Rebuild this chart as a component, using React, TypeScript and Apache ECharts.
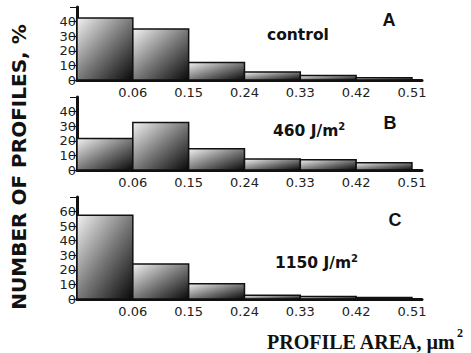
import React, { useEffect, useRef } from "react";
import * as echarts from "echarts";

const xLabels = ["", "0.06", "0.15", "0.24", "0.33", "0.42", "0.51"];
const valuesA = [42.5, 35, 12, 5.5, 3, 1.6];
const valuesB = [21.5, 32.5, 14.5, 7.5, 7, 5];
const valuesC = [57.5, 24, 10.5, 2.5, 1.7, 1];
const yMaxes = [50, 50, 70];
const panelLetters = ["A", "B", "C"];

const grids = [
  { left: 77, top: 7, width: 345, height: 73 },
  { left: 77, top: 97, width: 345, height: 73 },
  { left: 77, top: 197, width: 345, height: 102 },
];

const SANS = "'DejaVu Sans', Arial, sans-serif";
const ARIAL = "Arial, 'Liberation Sans', sans-serif";

export default function App() {
  const ref = useRef<HTMLDivElement>(null);
  useEffect(() => {
    if (!ref.current) return;
    const chart = echarts.init(ref.current, null, { renderer: "svg" });
    const all = [valuesA, valuesB, valuesC];
    const renderItem = (params: any, api: any) => {
      const i = api.value(0);
      const v = api.value(1);
      const p0 = api.coord([i, 0]);
      const p1 = api.coord([i + 1, v]);
      return {
        type: "rect",
        shape: { x: p0[0], y: p1[1], width: p1[0] - p0[0], height: p0[1] - p1[1] },
        style: {
          fill: new echarts.graphic.LinearGradient(0, 0, 1, 1, [
            { offset: 0, color: "#f2f2f2" },
            { offset: 0.5, color: "#7a7a7a" },
            { offset: 1, color: "#080808" },
          ]),
          stroke: "#111",
          lineWidth: 1.5,
        },
      };
    };
    const axisFont = { fontFamily: SANS, fontSize: 13, color: "#222" };
    const supStyle = (x: number, y: number, main: string) => ({
      type: "text",
      x,
      y,
      style: {
        text: `{a|${main}}{s|2}`,
        rich: {
          a: { font: `bold 15.5px ${SANS}`, fill: "#111" },
          s: { font: `bold 10px ${SANS}`, fill: "#111", verticalAlign: "top", padding: [0, 0, 10, 0] },
        },
        align: "left",
        verticalAlign: "middle",
      },
    });
    const option: any = {
      animation: false,
      grid: grids,
      xAxis: grids.map((_, gi) => ({
        type: "value",
        gridIndex: gi,
        min: 0,
        max: 6.18,
        interval: 1,
        axisLine: { lineStyle: { color: "#111", width: 3 } },
        axisTick: { show: false },
        splitLine: { show: false },
        axisLabel: {
          ...axisFont,
          margin: 6,
          showMaxLabel: false,
          formatter: (v: number) => (Number.isInteger(v) ? xLabels[v] ?? "" : ""),
        },
      })),
      yAxis: grids.map((_, gi) => ({
        type: "value",
        gridIndex: gi,
        min: 0,
        max: yMaxes[gi],
        interval: 10,
        axisLine: { show: true, lineStyle: { color: "#111", width: 3 } },
        axisTick: { show: true, length: 7, lineStyle: { color: "#111", width: 1 } },
        splitLine: { show: false },
        axisLabel: {
          ...axisFont,
          margin: 1,
          formatter: (v: number) => (v === yMaxes[gi] ? "" : String(v)),
        },
      })),
      series: all.map((vals, gi) => ({
        type: "custom",
        xAxisIndex: gi,
        yAxisIndex: gi,
        renderItem,
        data: vals.map((v, i) => [i, v]),
      })),
      graphic: [
        {
          type: "text",
          rotation: Math.PI / 2,
          x: 19,
          y: 167,
          style: {
            text: "NUMBER OF PROFILES, %",
            font: `bold 20px ${SANS}`,
            fill: "#111",
            align: "center",
            verticalAlign: "middle",
          },
        },
        {
          type: "text",
          x: 267,
          y: 342,
          style: {
            text: "PROFILE AREA, \u00b5m",
            font: "bold 20px 'Times New Roman', 'Liberation Serif', serif",
            fill: "#111",
            align: "left",
            verticalAlign: "middle",
          },
        },
        {
          type: "text",
          x: 457,
          y: 333,
          style: {
            text: "2",
            font: "bold 12px 'Times New Roman', 'Liberation Serif', serif",
            fill: "#111",
            align: "left",
            verticalAlign: "middle",
          },
        },
        { type: "text", x: 389, y: 20, style: { text: panelLetters[0], font: `bold 18px ${ARIAL}`, fill: "#111", align: "center", verticalAlign: "middle" } },
        { type: "text", x: 390, y: 123, style: { text: panelLetters[1], font: `bold 18px ${ARIAL}`, fill: "#111", align: "center", verticalAlign: "middle" } },
        { type: "text", x: 395, y: 220, style: { text: panelLetters[2], font: `bold 18px ${ARIAL}`, fill: "#111", align: "center", verticalAlign: "middle" } },
        { type: "text", x: 267, y: 35, style: { text: "control", font: `bold 15.5px ${SANS}`, fill: "#111", align: "left", verticalAlign: "middle" } },
        supStyle(273, 131, "460 J/m"),
        supStyle(275, 263, "1150 J/m"),
      ],
    };
    chart.setOption(option);
    return () => chart.dispose();
  }, []);
  return <div ref={ref} style={{ width: 471, height: 353, position: "absolute", left: 0, top: 0, background: "#fff" }} />;
}
